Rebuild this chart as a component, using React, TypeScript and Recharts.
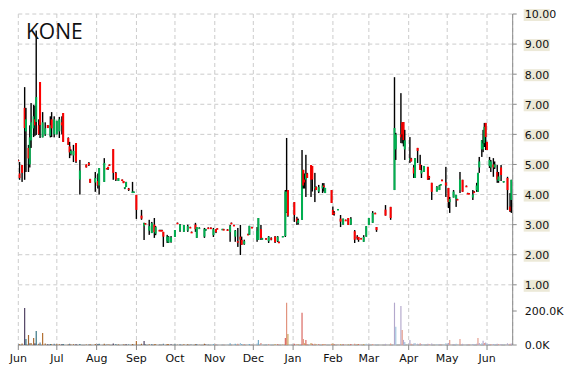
import * as React from 'react';
import { ComposedChart, BarChart, Bar, Cell, XAxis, YAxis, CartesianGrid } from 'recharts';

// trading days, counted in calendar days from 1 June
const days = [
  0, 1, 3, 5, 6, 8, 9, 10, 12, 13,
  14, 16, 17, 19, 21, 23, 25, 26, 28, 30,
  32, 34, 35, 39, 40, 41, 43, 45, 48, 53,
  55, 56, 60, 62, 63, 67, 69, 70, 71, 74,
  76, 78, 81, 82, 83, 84, 86, 89, 90, 92,
  96, 98, 99, 102, 104, 106, 107, 110, 111, 112,
  113, 116, 117, 119, 122, 124, 126, 129, 132, 134,
  135, 138, 139, 141, 145, 146, 148, 150, 152, 154,
  155, 159, 160, 163, 165, 166, 168, 169, 171, 173,
  174, 176, 179, 180, 182, 186, 187, 189, 190, 193,
  195, 197, 200, 202, 203, 206, 208, 209, 210, 215,
  217, 218, 221, 222, 223, 224, 225, 228, 229, 231,
  232, 234, 237, 238, 239, 244, 245, 246, 249, 251,
  253, 255, 257, 259, 262, 264, 265, 267, 269, 271,
  273, 276, 278, 279, 286, 290, 293, 294, 298, 299,
  300, 301, 305, 306, 308, 309, 311, 313, 314, 316,
  319, 320, 322, 326, 328, 329, 330, 333, 335, 336,
  339, 341, 342, 344, 346, 349, 350, 351, 354, 355,
  357, 358, 359, 361, 362, 363, 364, 365, 367, 368,
  370, 371, 373, 374, 376, 378, 381, 383, 384,
];

const opens = [
  5.15, 4.7, 4.98, 6.88, 6.1, 5.55, 5.0, 5.8, 6.2, 6.5,
  6.41, 6.3, 7.74, 5.9, 6.0, 6.31, 5.95, 6.5, 6.0, 6.0,
  6.1, 6.4, 6.71, 5.88, 5.6, 5.35, 5.3, 5.71, 4.5, 5.0,
  5.05, 4.52, 4.4, 4.45, 4.3, 4.42, 4.88, 4.92, 5.0, 5.51,
  4.72, 4.45, 4.5, 4.45, 4.2, 4.25, 4.2, 4.05, 4.06, 3.99,
  3.3, 2.95, 3.05, 2.8, 2.72, 3.0, 2.7, 2.82, 2.82, 2.82,
  2.76, 2.45, 2.4, 2.42, 2.59, 3.06, 2.8, 2.76, 2.8, 2.92,
  2.76, 3.0, 2.56, 2.88, 2.6, 2.8, 2.9, 2.9, 2.65, 2.85,
  2.88, 2.84, 2.85, 2.84, 2.75, 3.06, 2.99, 2.6, 2.45, 2.6,
  2.49, 2.35, 2.69, 2.66, 2.92, 2.5, 2.49, 2.85, 2.5, 2.55,
  2.45, 2.55, 2.6, 2.45, 2.43, 2.6, 2.62, 3.4, 4.15, 3.75,
  3.2, 3.05, 3.16, 4.82, 4.5, 4.5, 4.7, 4.98, 4.95, 4.2,
  4.25, 4.1, 4.2, 4.3, 4.05, 4.15, 3.49, 3.4, 3.5, 3.2,
  3.0, 3.16, 3.22, 3.0, 2.78, 2.6, 2.59, 2.55, 2.43, 2.6,
  2.99, 3.06, 3.39, 2.92, 3.5, 3.59, 4.15, 5.5, 6.0, 6.4,
  6.41, 5.5, 5.15, 5.2, 4.9, 4.55, 5.55, 5.0, 4.7, 4.75,
  4.92, 4.6, 4.39, 4.1, 4.15, 4.3, 4.49, 4.4, 4.22, 3.75,
  3.9, 3.85, 3.85, 4.15, 4.49, 4.29, 4.05, 4.05, 3.9, 4.1,
  4.15, 4.09, 4.9, 5.5, 5.5, 5.71, 6.38, 5.75, 4.95, 4.9,
  5.0, 4.9, 4.75, 4.45, 4.9, 4.4, 4.55, 3.6, 3.82,
];

const highs = [
  5.17, 5.08, 4.98, 7.57, 6.88, 5.65, 6.3, 7.04, 6.98, 6.95,
  9.45, 6.5, 7.74, 6.74, 6.4, 6.31, 6.6, 6.74, 6.6, 6.45,
  6.58, 6.6, 6.71, 5.9, 5.75, 5.5, 5.65, 5.71, 5.15, 5.0,
  5.08, 4.52, 4.75, 4.7, 4.88, 5.21, 4.88, 4.92, 5.0, 5.51,
  4.75, 4.55, 4.5, 4.45, 4.25, 4.42, 4.22, 4.42, 4.1, 3.99,
  3.49, 3.06, 3.05, 3.16, 3.09, 3.22, 2.95, 2.83, 2.83, 2.83,
  2.76, 2.66, 2.62, 2.62, 2.82, 3.07, 3.02, 2.99, 3.0, 2.93,
  2.77, 3.06, 2.92, 2.91, 2.89, 2.86, 2.91, 2.91, 2.89, 2.85,
  2.88, 2.86, 2.86, 2.85, 2.99, 3.07, 3.0, 2.82, 2.89, 2.99,
  2.6, 2.5, 2.7, 2.96, 2.93, 2.92, 3.22, 2.99, 2.56, 2.55,
  2.62, 2.58, 2.62, 2.62, 2.44, 2.62, 4.15, 5.88, 4.15, 3.75,
  3.26, 3.2, 5.48, 4.82, 4.7, 5.32, 4.72, 4.98, 4.95, 4.72,
  4.27, 4.32, 4.38, 4.38, 4.22, 4.15, 3.6, 3.45, 3.52, 3.32,
  3.2, 3.17, 3.22, 3.25, 2.82, 2.65, 2.59, 2.56, 2.65, 2.95,
  3.22, 3.45, 3.4, 2.92, 3.65, 3.59, 7.9, 6.05, 7.37, 6.4,
  6.41, 6.15, 5.91, 5.22, 4.98, 5.21, 5.55, 5.32, 4.98, 4.95,
  4.92, 4.62, 4.39, 4.28, 4.32, 4.35, 4.5, 4.92, 4.22, 3.92,
  4.15, 3.99, 3.86, 4.75, 4.49, 4.3, 4.06, 4.05, 4.15, 4.12,
  4.39, 4.72, 5.25, 5.81, 6.15, 6.38, 6.38, 5.75, 5.25, 5.15,
  5.21, 5.1, 4.98, 4.75, 4.98, 4.45, 4.59, 4.05, 4.49,
];

const lows = [
  5.12, 4.49, 4.42, 4.49, 4.75, 4.75, 4.9, 5.55, 5.91, 5.95,
  5.98, 5.98, 5.88, 5.9, 5.95, 6.21, 5.9, 5.91, 5.9, 6.0,
  5.88, 6.0, 5.75, 5.65, 5.21, 5.3, 5.08, 5.05, 4.0, 4.9,
  4.95, 4.39, 4.09, 4.2, 4.0, 4.42, 4.85, 4.82, 4.95, 4.49,
  4.45, 4.45, 4.45, 4.38, 4.18, 4.25, 4.12, 4.05, 4.06, 3.19,
  3.16, 2.49, 3.04, 2.66, 2.72, 2.56, 2.65, 2.81, 2.81, 2.81,
  2.26, 2.39, 2.39, 2.4, 2.59, 3.05, 2.76, 2.76, 2.76, 2.91,
  2.75, 2.76, 2.56, 2.88, 2.56, 2.8, 2.89, 2.89, 2.59, 2.72,
  2.85, 2.84, 2.84, 2.8, 2.43, 3.05, 2.98, 2.43, 2.26, 1.99,
  2.33, 2.33, 2.68, 2.66, 2.91, 2.43, 2.49, 2.49, 2.5, 2.5,
  2.39, 2.48, 2.39, 2.42, 2.42, 2.6, 2.59, 3.39, 3.26, 3.09,
  2.99, 3.0, 3.16, 4.2, 4.2, 3.92, 4.55, 3.92, 4.1, 3.75,
  4.15, 4.05, 4.05, 4.1, 4.05, 3.72, 3.32, 3.3, 3.5, 2.92,
  3.0, 3.15, 2.99, 2.99, 2.39, 2.5, 2.43, 2.54, 2.43, 2.6,
  2.99, 3.06, 3.38, 2.76, 3.3, 3.16, 4.15, 5.15, 5.71, 5.7,
  5.6, 5.15, 5.05, 5.1, 4.55, 4.55, 5.05, 4.82, 4.55, 4.75,
  4.49, 4.49, 3.82, 4.1, 4.15, 4.3, 4.48, 3.92, 3.55, 3.39,
  3.9, 3.59, 3.84, 4.05, 4.09, 4.28, 4.04, 4.02, 3.82, 4.05,
  4.09, 4.09, 4.72, 5.25, 5.41, 5.58, 5.48, 5.48, 4.88, 4.75,
  4.59, 4.85, 4.39, 4.39, 4.45, 4.4, 3.49, 3.42, 3.39,
];

const closes = [
  5.12, 4.55, 4.72, 6.21, 6.5, 5.2, 5.9, 6.4, 6.6, 6.3,
  7.24, 6.0, 6.31, 6.4, 6.2, 6.21, 6.3, 6.2, 6.5, 6.45,
  6.5, 6.3, 5.75, 5.65, 5.4, 5.45, 5.45, 5.1, 4.8, 4.9,
  4.98, 4.39, 4.55, 4.3, 4.88, 5.05, 4.85, 4.85, 4.95, 4.72,
  4.5, 4.55, 4.48, 4.38, 4.25, 4.42, 4.15, 4.1, 4.1, 3.49,
  3.2, 3.06, 3.04, 2.95, 3.05, 2.75, 2.92, 2.81, 2.81, 2.81,
  2.6, 2.6, 2.6, 2.58, 2.82, 3.05, 3.0, 2.99, 2.95, 2.91,
  2.75, 2.85, 2.92, 2.9, 2.85, 2.85, 2.89, 2.89, 2.85, 2.75,
  2.85, 2.86, 2.84, 2.8, 2.95, 3.05, 2.98, 2.8, 2.4, 2.5,
  2.33, 2.45, 2.68, 2.96, 2.91, 2.8, 3.22, 2.55, 2.55, 2.52,
  2.6, 2.5, 2.42, 2.6, 2.42, 2.62, 4.1, 4.1, 3.3, 3.32,
  3.1, 3.15, 4.82, 4.3, 4.4, 4.7, 4.55, 4.49, 4.5, 4.25,
  4.15, 4.25, 4.3, 4.25, 4.22, 3.72, 3.32, 3.35, 3.52, 3.1,
  3.2, 3.15, 2.99, 3.2, 2.5, 2.55, 2.49, 2.54, 2.59, 2.95,
  3.22, 3.39, 3.38, 2.82, 3.3, 3.22, 6.21, 6.0, 5.9, 6.0,
  5.81, 5.8, 5.2, 5.1, 4.7, 5.21, 5.45, 4.82, 4.8, 4.95,
  4.49, 4.55, 4.09, 4.25, 4.3, 4.35, 4.48, 4.3, 3.75, 3.85,
  4.1, 3.99, 3.84, 4.5, 4.09, 4.28, 4.04, 4.02, 4.0, 4.05,
  4.3, 4.72, 5.1, 5.8, 5.7, 6.25, 5.91, 5.48, 5.15, 5.1,
  4.9, 5.0, 4.5, 4.6, 4.65, 4.45, 4.15, 3.45, 4.49,
];

// volume in thousands
const volumes = [
  6, 4, 9, 218, 35, 59, 10, 12, 41, 10,
  82, 8, 15, 70, 9, 4, 6, 5, 7, 4,
  5, 4, 6, 3, 8, 3, 5, 4, 6, 3,
  3, 4, 6, 5, 8, 7, 3, 3, 2, 9,
  5, 3, 2, 3, 2, 4, 3, 6, 2, 24,
  8, 24, 3, 5, 6, 5, 4, 2, 2, 2,
  7, 6, 5, 4, 3, 2, 5, 4, 4, 2,
  2, 5, 6, 2, 7, 3, 2, 2, 6, 4,
  3, 2, 2, 3, 10, 2, 3, 8, 7, 12,
  6, 4, 2, 6, 2, 9, 29, 12, 4, 3,
  5, 3, 6, 4, 2, 3, 41, 249, 64, 8,
  5, 4, 190, 35, 10, 29, 6, 12, 8, 7,
  4, 5, 6, 4, 3, 7, 9, 5, 3, 6,
  4, 2, 5, 6, 8, 4, 5, 2, 6, 7,
  5, 6, 2, 4, 7, 9, 249, 108, 229, 88,
  30, 18, 29, 8, 9, 12, 7, 10, 6, 5,
  8, 4, 9, 5, 4, 3, 2, 10, 12, 29,
  6, 8, 2, 35, 7, 2, 3, 3, 6, 4,
  7, 41, 12, 10, 25, 12, 15, 8, 6, 5,
  6, 4, 7, 5, 6, 3, 10, 8, 9,
];

const monthTicks = [0, 30, 61, 92, 122, 153, 183, 214, 245, 273, 304, 334, 365];
const monthLabels = ['Jun', 'Jul', 'Aug', 'Sep', 'Oct', 'Nov', 'Dec', 'Jan', 'Feb', 'Mar', 'Apr', 'May', 'Jun'];
const priceTicks = [1, 2, 3, 4, 5, 6, 7, 8, 9, 10];
const volumeTicks = [0, 200000];

const data = days.map((day, i) => ({
  day,
  open: opens[i],
  high: highs[i],
  low: lows[i],
  close: closes[i],
  volume: volumes[i] * 1000,
}));

const W = 570;
const H = 370;
const MARGIN = { top: 14, right: 7.3, left: 18.3, bottom: 0 };
const AXIS = '#8a8a8a';
const UP = '#00b050';
const DOWN = '#ff0000';
const FONT = 'DejaVu Sans';

// volume bar colours change over the year
const volEarly = ['#5a7d9a', '#b06a2a', '#a3652e', '#4b3c5e', '#2e6f7f', '#a3652e'];
const volMid = ['#6fa8c8', '#d98a7e', '#9fc3da'];
const volJan = ['#c9a35c', '#d9645c', '#e0907a'];
const volLate = ['#b3a8cc', '#e49a8a', '#b3a8cc', '#a0c4dc'];
const volColor = (day: number, i: number) => {
  if (day < 150) return volEarly[i % volEarly.length];
  if (day < 200) return volMid[i % volMid.length];
  if (day < 270) return volJan[i % volJan.length];
  return volLate[i % volLate.length];
};

const Candle = (props: any) => {
  const { x, y, width, height, payload } = props;
  if (!payload || !(height > 0)) return null;
  const ppu = height / payload.high;
  const yOf = (p: number) => y + (payload.high - p) * ppu;
  const cx = x + width / 2;
  const top = yOf(Math.max(payload.open, payload.close));
  const bot = yOf(Math.min(payload.open, payload.close));
  const wickTop = yOf(payload.high);
  const wickBot = yOf(payload.low);
  return (
    <g>
      <rect x={cx - 0.7} y={wickTop} width={1.4} height={Math.max(1, wickBot - wickTop)} fill="#000" />
      <rect
        x={cx - 1}
        y={top}
        width={2}
        height={Math.max(1.5, bot - top)}
        fill={payload.close > payload.open ? UP : DOWN}
      />
    </g>
  );
};

const PriceTick = (props: any) => {
  const { x, y, payload } = props;
  return (
    <g>
      <rect x={x - 1} y={y - 5} width={26} height={12} fill="#ece9d8" />
      <text x={x} y={y} dy="0.4em" fontFamily={FONT} fontSize={11} fill="#111">
        {payload.value.toFixed(2)}
      </text>
    </g>
  );
};

export default function App() {
  return (
    <div style={{ position: 'absolute', left: 0, top: 0, width: W, height: H, background: '#fff' }}>
      <div style={{ position: 'absolute', left: 0, top: 0 }}>
        <ComposedChart width={W} height={H} data={data} margin={MARGIN}>
          <CartesianGrid stroke="#cccccc" strokeDasharray="4 3" />
          <XAxis
            type="number"
            dataKey="day"
            domain={[0, 385]}
            ticks={monthTicks}
            interval={0}
            allowDataOverflow
            height={25}
            tickSize={5}
            tickMargin={4}
            tickFormatter={(v: number) => monthLabels[monthTicks.indexOf(v)]}
            tick={{ fontFamily: FONT, fontSize: 11, fill: '#111' }}
            axisLine={{ stroke: AXIS }}
            tickLine={{ stroke: AXIS }}
          />
          <YAxis
            orientation="right"
            domain={[-1, 10]}
            ticks={priceTicks}
            allowDataOverflow
            width={50}
            tickSize={4}
            tickMargin={8}
            tick={<PriceTick />}
            axisLine={{ stroke: AXIS }}
            tickLine={{ stroke: AXIS }}
          />
          <Bar dataKey="high" barSize={3} shape={<Candle />} isAnimationActive={false} />
        </ComposedChart>
      </div>
      <div style={{ position: 'absolute', left: 0, top: 0 }}>
        <BarChart width={W} height={H} data={data} margin={{ ...MARGIN, bottom: 25 }}>
          <XAxis type="number" dataKey="day" domain={[0, 385]} hide allowDataOverflow />
          <YAxis
            orientation="right"
            domain={[0, 1947059]}
            ticks={volumeTicks}
            allowDataOverflow
            width={50}
            tickSize={4}
            tickMargin={8}
            tickFormatter={(v: number) => (v / 1000).toFixed(1) + 'K'}
            tick={{ fontFamily: FONT, fontSize: 11, fill: '#111', textAnchor: 'start' }}
            axisLine={false}
            tickLine={{ stroke: AXIS }}
          />
          <Bar dataKey="volume" barSize={1.5} isAnimationActive={false}>
            {data.map((d, i) => (
              <Cell key={i} fill={volColor(d.day, i)} />
            ))}
          </Bar>
        </BarChart>
      </div>
      <svg width={W} height={H} style={{ position: 'absolute', left: 0, top: 0, pointerEvents: 'none' }}>
        <text x={26} y={39} fontFamily="Open Sans" fontSize={21} fill="#111">
          KONE
        </text>
      </svg>
    </div>
  );
}
